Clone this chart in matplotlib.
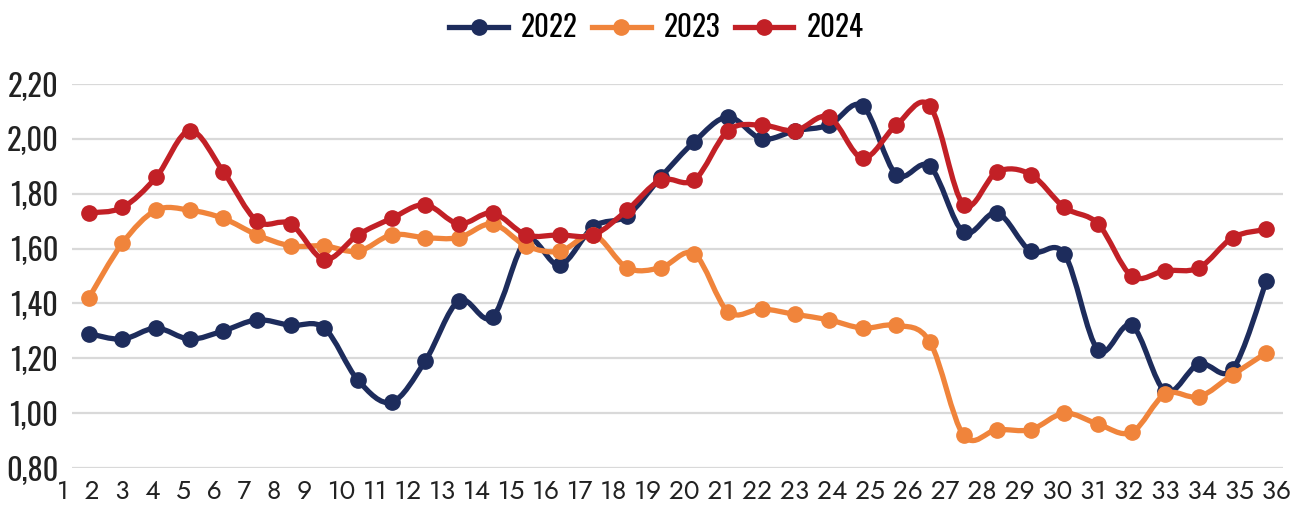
import matplotlib.pyplot as plt
import numpy as np
from matplotlib.path import Path
from matplotlib.patches import PathPatch
from matplotlib.lines import Line2D

weeks = list(range(1, 37))
week_labels = [str(w) for w in weeks]

y_ticks = [0.80, 1.00, 1.20, 1.40, 1.60, 1.80, 2.00, 2.20]
y_tick_labels = ["0,80", "1,00", "1,20", "1,40", "1,60", "1,80", "2,00", "2,20"]

series_names = ["2022", "2023", "2024"]
v2022 = [1.29, 1.27, 1.31, 1.27, 1.30, 1.34, 1.32, 1.31, 1.12, 1.04, 1.19, 1.41,
         1.35, 1.63, 1.54, 1.68, 1.72, 1.86, 1.99, 2.08, 2.00, 2.03, 2.05, 2.12,
         1.87, 1.90, 1.66, 1.73, 1.59, 1.58, 1.23, 1.32, 1.08, 1.18, 1.16, 1.48]
v2023 = [1.42, 1.62, 1.74, 1.74, 1.71, 1.65, 1.61, 1.61, 1.59, 1.65, 1.64, 1.64,
         1.69, 1.61, 1.59, 1.65, 1.53, 1.53, 1.58, 1.37, 1.38, 1.36, 1.34, 1.31,
         1.32, 1.26, 0.92, 0.94, 0.94, 1.00, 0.96, 0.93, 1.07, 1.06, 1.14, 1.22]
v2024 = [1.73, 1.75, 1.86, 2.03, 1.88, 1.70, 1.69, 1.56, 1.65, 1.71, 1.76, 1.69,
         1.73, 1.65, 1.65, 1.65, 1.74, 1.85, 1.85, 2.03, 2.05, 2.03, 2.08, 1.93,
         2.05, 2.12, 1.76, 1.88, 1.87, 1.75, 1.69, 1.50, 1.52, 1.53, 1.64, 1.67]
colors = ["#1d2c5c", "#f0843b", "#c22026"]

cond_font = ["Oswald", "Antonio", "IBM Plex Sans Condensed", "DejaVu Sans"]
round_font = ["Jost", "Futura", "Century Gothic", "DejaVu Sans"]


def smooth_path(x, y):
    # excel-like smoothed line: catmull-rom as cubic bezier segments
    pts = np.column_stack([x, y]).astype(float)
    n = len(pts)
    verts = [pts[0]]
    codes = [Path.MOVETO]
    for i in range(n - 1):
        p0 = pts[i - 1] if i > 0 else pts[i]
        p1 = pts[i]
        p2 = pts[i + 1]
        p3 = pts[i + 2] if i + 2 < n else pts[i + 1]
        verts += [p1 + (p2 - p0) / 6, p2 - (p3 - p1) / 6, p2]
        codes += [Path.CURVE4] * 3
    return Path(verts, codes)


fig = plt.figure(figsize=(13, 5.07), dpi=100)
ax = fig.add_axes([0.0554, 0.0769, 0.9316, 0.7574])

handles = []
for i, (name, vals) in enumerate(zip(series_names, [v2022, v2023, v2024])):
    patch = PathPatch(smooth_path(weeks, vals), facecolor="none", edgecolor=colors[i],
                      lw=3.8, capstyle="round", joinstyle="round", zorder=3 + i)
    ax.add_patch(patch)
    ax.plot(weeks, vals, "o", color=colors[i], markersize=11, zorder=3 + i)
    handles.append(Line2D([], [], color=colors[i], lw=3.8, marker="o", markersize=11))

ax.set_xlim(0.5, 36.5)
ax.set_ylim(0.8, 2.2)
ax.set_yticks(y_ticks, y_tick_labels)
ax.set_xticks([])
ax.tick_params(axis="y", length=0, pad=10)
for lab in ax.get_yticklabels():
    lab.set_fontfamily(cond_font)
    lab.set_fontsize(22)
    lab.set_color("#222222")
ax.grid(axis="y", color="#d9d9d9", lw=1.6)
ax.set_axisbelow(True)
for s in ax.spines.values():
    s.set_visible(False)

# category labels written as one spaced row, like in the source chart
row = ""
for lab in week_labels[:-1]:
    row += lab + ("  " if len(lab) == 1 else " ")
row += week_labels[-1]
xt = fig.text(57 / 1300, 1 - 492 / 507, row, ha="left", va="center",
              fontsize=16, color="#222222", family=round_font)
fig.canvas.draw()
w = xt.get_window_extent(fig.canvas.get_renderer()).width
xt.set_fontsize(16 * 1232 / w)

fig.legend(handles, series_names, loc="center", bbox_to_anchor=(0.505, 0.946), ncol=3,
           frameon=False, handlelength=2.0, handletextpad=0.45, columnspacing=0.5,
           prop={"family": cond_font, "size": 21})

fig.savefig("out.png", dpi=100)
